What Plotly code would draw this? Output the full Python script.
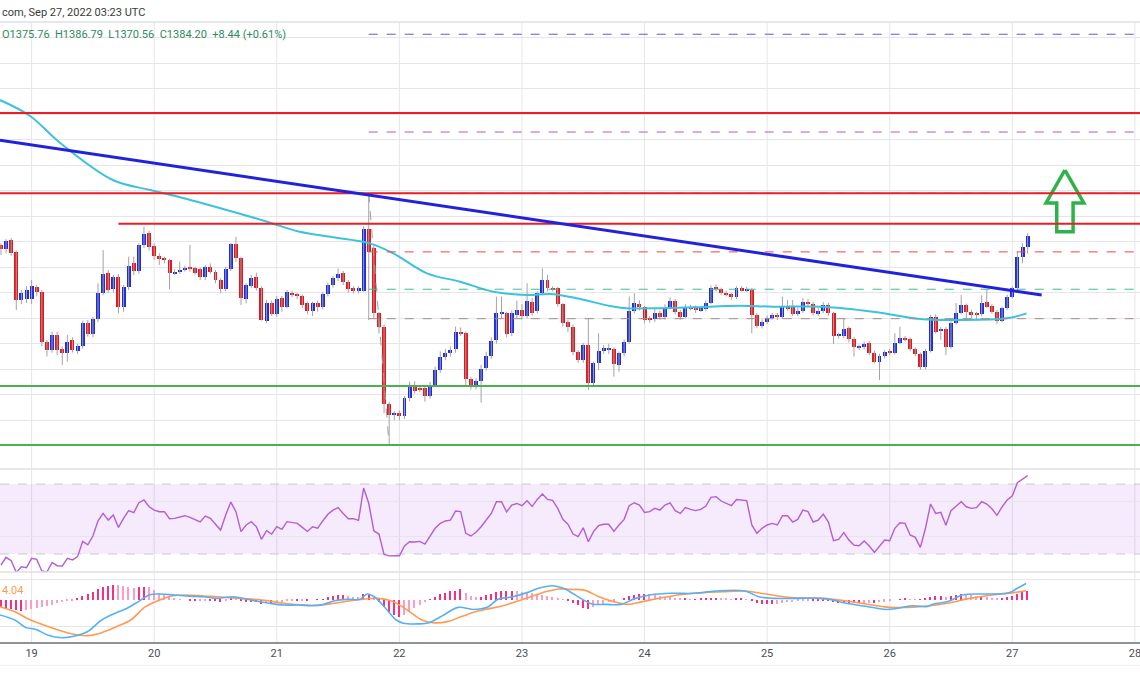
import plotly.graph_objects as go
import pandas as pd

# ---------------- data (hourly ETH/USD candles, first candle = Sep 18 18:00 UTC) ----------------
base = pd.Timestamp("2022-09-19 00:00")
first_hour = -6

opens = [1377.4,1374.0,1381.3,1371.9,1334.3,1334.8,1334.8,1344.7,1340.8,1301.6,1295.1,1306.8,1295.6,1293.0,1302.9,1294.3,
         1298.2,1316.5,1307.6,1319.1,1340.0,1355.2,1342.6,1352.1,1328.5,1344.2,1363.0,1357.3,1377.4,1386.6,1376.6,1369.1,
         1366.2,1365.7,1355.2,1356.5,1358.3,1359.4,1359.1,1358.3,1352.1,1359.9,1356.5,1350.0,1342.6,1358.9,1378.2,1367.0,
         1334.8,1345.3,1352.1,1343.4,1318.1,1331.7,1323.3,1335.6,1329.1,1340.0,1338.2,1337.4,1331.7,1325.9,1332.2,1329.1,
         1338.7,1346.1,1351.3,1355.7,1348.7,1343.4,1341.6,1341.6,1389.7,1375.3,1323.8,1313.4,1252.7,1244.1,1245.4,1243.3,
         1257.2,1266.3,1264.7,1265.0,1259.0,1267.6,1279.4,1289.8,1292.4,1295.6,1309.4,1308.4,1272.1,1266.3,1271.0,1280.7,
         1290.4,1302.9,1323.8,1323.8,1308.1,1322.5,1326.4,1321.7,1333.0,1325.9,1340.0,1350.0,1343.4,1343.4,1331.1,1317.3,
         1313.4,1293.8,1287.2,1299.0,1269.4,1284.6,1294.5,1295.1,1295.6,1283.3,1292.4,1301.6,1325.9,1331.1,1328.5,1319.1,
         1319.1,1324.3,1321.2,1328.3,1333.8,1325.1,1321.2,1329.1,1328.5,1326.4,1326.9,1332.2,1344.2,1342.6,1340.0,1338.7,
         1336.4,1343.4,1342.1,1342.1,1322.5,1313.9,1317.3,1320.4,1322.5,1321.2,1328.5,1328.5,1323.3,1325.9,1333.0,1331.2,
         1323.3,1325.9,1330.4,1323.8,1306.1,1306.1,1312.1,1303.4,1297.2,1297.2,1300.3,1293.0,1285.9,1290.4,1294.3,1293.0,
         1300.8,1304.2,1303.4,1295.6,1291.7,1281.5,1294.6,1321.2,1310.5,1311.3,1297.6,1316.2,1324.1,1330.4,1325.1,1323.5,
         1323.1,1332.9,1329.6,1325.1,1318.0,1327.8,1336.9,1343.4,1367.8,1375.76]
highs = [1378.7,1382.0,1383.0,1373.0,1342.0,1345.0,1350.0,1346.0,1342.0,1303.0,1309.4,1309.4,1297.7,1306.8,1305.0,1300.0,
         1318.0,1318.6,1321.0,1347.4,1373.5,1357.8,1353.9,1354.7,1346.1,1368.3,1368.3,1378.7,1391.8,1388.5,1378.7,1371.0,
         1368.3,1366.5,1358.3,1364.3,1361.0,1377.4,1360.5,1359.6,1361.7,1363.0,1357.8,1351.3,1360.5,1379.0,1384.0,1368.3,
         1347.4,1353.9,1355.7,1345.0,1334.3,1333.8,1337.4,1337.4,1342.1,1341.6,1340.0,1338.7,1333.0,1333.0,1333.8,1340.5,
         1348.0,1353.0,1359.0,1357.0,1350.0,1345.0,1345.0,1392.0,1417.9,1377.0,1325.0,1315.0,1254.5,1247.0,1247.5,1259.0,
         1270.2,1270.5,1266.5,1266.3,1270.0,1282.0,1294.0,1296.0,1297.7,1313.4,1312.8,1309.5,1274.0,1273.0,1283.3,1293.8,
         1305.0,1336.9,1336.9,1325.1,1326.0,1333.8,1331.0,1347.4,1336.0,1341.0,1359.1,1353.9,1345.0,1344.5,1332.0,1318.6,
         1315.0,1295.0,1300.5,1319.9,1286.0,1308.1,1299.0,1300.0,1297.0,1294.0,1303.5,1336.9,1339.5,1334.0,1329.5,1321.5,
         1328.3,1326.0,1331.0,1336.4,1335.0,1326.5,1331.0,1330.5,1330.0,1329.5,1334.0,1345.5,1346.5,1344.0,1341.5,1340.0,
         1345.0,1345.0,1344.5,1343.5,1324.0,1319.0,1322.0,1324.0,1324.0,1336.9,1334.3,1334.3,1328.0,1335.5,1335.0,1333.0,
         1328.0,1332.5,1332.0,1325.0,1308.5,1319.9,1313.5,1305.0,1299.5,1301.6,1302.0,1294.5,1292.0,1295.0,1296.0,1308.2,
         1313.4,1306.0,1305.0,1297.0,1293.0,1296.0,1322.5,1323.0,1313.0,1313.0,1317.5,1331.9,1338.2,1331.5,1326.5,1325.0,
         1338.0,1342.1,1331.0,1326.5,1329.0,1338.5,1345.0,1372.0,1378.7,1386.79]
lows = [1369.6,1371.0,1369.0,1326.4,1331.0,1332.0,1331.0,1337.0,1298.0,1290.0,1293.0,1291.0,1283.3,1285.9,1293.0,1292.0,
        1296.0,1305.5,1305.0,1317.0,1338.0,1340.0,1340.0,1323.8,1325.1,1342.0,1353.9,1355.0,1375.0,1373.0,1366.0,1361.7,
        1363.0,1342.6,1353.9,1354.7,1356.5,1356.5,1353.9,1350.0,1350.0,1354.7,1347.4,1339.5,1341.0,1357.0,1364.3,1330.4,
        1331.7,1343.4,1341.6,1318.1,1316.0,1321.7,1321.0,1325.1,1327.7,1336.4,1335.0,1328.0,1323.3,1321.7,1325.1,1327.0,
        1337.0,1344.0,1349.0,1346.0,1340.0,1339.5,1339.5,1340.8,1318.6,1320.0,1308.0,1245.4,1220.5,1240.0,1240.0,1241.0,
        1255.0,1261.0,1262.0,1254.5,1257.0,1266.0,1277.0,1287.0,1290.0,1293.0,1306.0,1266.3,1264.0,1264.0,1253.8,1279.0,
        1288.0,1300.0,1320.0,1305.0,1306.0,1320.0,1319.0,1319.9,1322.0,1323.8,1338.0,1341.0,1341.0,1329.0,1313.4,1309.0,
        1291.0,1285.0,1285.0,1263.7,1267.0,1279.4,1292.0,1292.0,1274.2,1278.0,1290.0,1300.0,1323.8,1326.0,1316.0,1316.5,
        1317.0,1319.0,1319.0,1327.0,1323.0,1319.0,1319.9,1326.0,1324.0,1325.0,1325.5,1331.0,1341.0,1338.0,1337.0,1334.5,
        1335.0,1341.0,1340.5,1308.2,1312.1,1312.0,1315.5,1319.0,1318.5,1319.5,1326.0,1321.5,1321.5,1324.0,1329.5,1322.0,
        1321.5,1324.0,1322.0,1299.8,1304.0,1304.5,1301.0,1289.9,1295.0,1295.5,1291.0,1284.6,1271.5,1288.5,1291.0,1291.5,
        1299.5,1301.5,1294.0,1290.0,1279.4,1280.0,1293.0,1308.0,1302.9,1291.1,1296.0,1315.0,1323.0,1318.0,1320.0,1318.0,
        1321.5,1328.0,1323.5,1315.5,1317.0,1326.5,1335.5,1341.6,1363.1,1370.56]
closes = [1374.0,1380.6,1371.4,1334.3,1340.0,1342.1,1345.3,1340.8,1301.6,1295.1,1306.8,1295.1,1293.0,1301.6,1295.1,1298.5,
          1316.5,1307.6,1319.1,1340.0,1354.7,1342.1,1352.1,1328.5,1344.7,1361.2,1357.3,1377.4,1386.0,1376.1,1368.8,1366.2,
          1365.7,1355.7,1356.5,1357.8,1359.6,1358.9,1355.7,1352.1,1359.9,1356.5,1350.0,1342.6,1358.9,1377.9,1367.0,1335.6,
          1346.1,1351.3,1343.4,1318.6,1331.7,1323.3,1334.8,1329.1,1340.8,1338.2,1337.4,1330.4,1325.7,1331.7,1329.1,1339.0,
          1346.1,1351.3,1354.7,1348.7,1342.6,1341.6,1343.4,1389.7,1372.2,1323.8,1313.4,1252.7,1244.1,1245.4,1243.3,1257.2,
          1265.8,1263.2,1264.2,1259.0,1267.6,1279.4,1289.3,1293.0,1295.1,1309.4,1307.6,1272.1,1266.3,1271.0,1279.9,1290.4,
          1302.4,1323.8,1324.3,1307.6,1323.8,1326.4,1321.7,1333.8,1324.3,1339.5,1350.0,1343.4,1342.6,1331.1,1316.0,1312.8,
          1293.8,1287.2,1299.0,1268.9,1284.6,1294.5,1296.4,1296.9,1284.1,1292.4,1301.6,1325.9,1331.7,1328.5,1318.6,1318.6,
          1324.3,1321.2,1328.3,1333.8,1325.1,1321.2,1329.1,1327.7,1326.4,1327.7,1332.2,1343.4,1342.6,1340.0,1338.7,1336.4,
          1343.4,1342.1,1342.7,1322.5,1313.9,1317.3,1320.4,1322.3,1320.7,1328.5,1327.8,1323.3,1325.9,1333.0,1331.2,1323.8,
          1325.9,1330.4,1323.8,1306.1,1306.8,1311.3,1303.4,1297.2,1297.7,1299.8,1293.0,1285.9,1290.4,1293.5,1293.0,1300.8,
          1304.2,1303.4,1295.6,1291.7,1281.5,1294.6,1321.2,1309.4,1311.3,1297.6,1316.2,1324.1,1330.4,1325.1,1322.5,1323.0,
          1331.7,1329.0,1325.1,1318.0,1327.8,1336.9,1343.5,1367.8,1375.6,1384.20]

rsi = [23.7,28.1,26.2,19.5,22.7,22.2,27.5,26.9,20.3,19.7,25.2,23.3,23.1,27.5,26.6,28.5,
       37.2,35.3,40.3,49.0,53.2,49.4,52.3,45.2,50.4,54.8,53.6,59.3,60.9,57.0,55.1,54.2,
       54.2,50.2,50.4,51.3,51.9,50.9,49.5,48.3,51.7,50.4,47.0,43.7,52.3,59.7,54.2,42.8,
       46.6,48.5,45.6,38.4,43.3,41.4,45.6,44.1,48.5,47.9,47.5,45.2,42.9,45.6,44.8,48.9,
       52.7,55.1,56.5,53.2,50.2,50.2,49.2,67.7,59.0,43.3,41.4,29.8,28.9,29.0,29.0,34.6,
       37.0,36.9,37.2,35.7,39.9,44.7,47.5,48.9,49.4,54.6,54.2,41.8,40.3,42.4,45.6,49.4,
       53.2,59.9,59.9,54.0,58.0,58.9,57.6,60.5,57.2,61.2,64.3,61.2,60.7,56.1,49.8,47.0,
       41.4,39.9,45.0,37.0,42.8,46.2,47.0,47.0,42.9,46.6,49.8,57.6,59.3,58.0,53.8,54.2,
       56.1,55.1,58.0,59.3,54.8,53.2,56.5,55.5,54.8,55.5,57.4,62.4,62.8,60.3,59.0,57.6,
       61.2,60.9,60.5,46.6,41.8,44.7,46.6,47.5,46.6,51.9,51.9,48.3,49.8,55.1,54.2,48.3,
       49.4,52.8,48.3,37.6,38.4,42.2,38.0,35.1,34.7,37.4,34.6,30.9,34.7,38.0,37.6,44.7,
       47.9,47.5,40.9,39.5,33.8,44.7,58.6,53.2,53.8,46.4,54.8,57.4,59.9,57.0,56.1,56.5,
       59.9,58.6,55.9,52.1,57.0,60.9,63.3,70.8,72.7,74.8]

macd_hist = [-3.2,-3.6,-4.1,-4.3,-4.6,-4.3,-4.1,-3.6,-3.2,-2.6,-2.2,-1.4,-1.0,-0.6,-0.3,0.6,
             1.7,2.6,3.6,4.6,5.8,6.1,6.5,6.4,6.1,5.8,5.1,5.5,5.8,5.5,4.3,2.9,
             2.2,1.4,0.7,0.3,0.0,-0.3,-0.4,-0.3,-0.1,-0.4,-0.6,-0.7,-0.1,0.6,0.3,-0.4,
             -0.7,-0.7,-1.0,-1.7,-1.4,-1.6,-1.2,-0.9,-0.3,-0.1,-0.3,-0.1,-0.1,0.0,0.1,0.4,
             1.2,1.7,2.0,2.0,1.7,1.4,1.2,2.6,2.6,1.2,-0.7,-2.9,-5.1,-6.5,-7.2,-6.7,
             -5.4,-3.3,-2.0,-0.9,0.3,1.4,2.5,3.2,3.8,4.1,4.6,2.9,1.7,1.2,1.4,2.0,
             2.6,3.6,4.1,4.1,4.1,3.8,3.3,3.2,2.9,2.6,2.3,1.7,1.2,0.7,0.3,-0.3,
             -1.2,-2.3,-3.5,-4.1,-3.2,-2.3,-1.6,-0.9,-0.4,0.0,0.6,1.6,2.3,2.6,2.8,2.6,
             2.2,1.7,1.4,1.2,0.7,0.6,0.6,0.4,0.4,0.6,0.6,0.9,0.9,0.7,0.6,0.4,
             0.6,0.6,0.4,-0.3,-1.2,-1.6,-1.7,-1.7,-1.6,-1.3,-1.0,-0.9,-0.6,-0.3,-0.1,-0.1,
             -0.3,-0.3,-0.6,-1.0,-1.2,-1.2,-1.3,-1.4,-1.4,-1.3,-1.2,-1.2,-1.0,-0.7,-0.4,0.0,
             0.4,0.6,0.4,0.3,0.3,0.6,1.4,1.7,1.7,1.4,1.9,2.3,2.6,2.3,2.0,1.7,
             1.7,1.4,1.0,0.6,0.7,1.2,1.7,2.6,3.5,4.1]

# MACD / signal lines read as points (hours from Sep 19 00:00 UTC)
macd_hours = [-6.2,-3.3,-1.2,0.9,3.1,5.9,8.0,10.9,13.7,16.6,18.7,20.9,23.0,25.1,28.0,30.8,33.7,36.5,39.4,42.2,
              43.6,46.5,49.3,52.2,55.0,57.2,59.3,62.1,64.3,65.7,67.1,69.3,71.4,72.8,75.7,77.8,80.7,83.5,86.4,89.2,
              91.3,94.2,97.0,99.2,102.0,104.1,105.4,107.5,109.7,112.5,115.4,118.2,121.1,125.3,129.6,133.9,139.6,
              142.4,145.3,149.5,155.2,159.5,163.8,167.3,169.5,172.3,175.2,176.6,179.4,182.3,186.6,189.4,191.5,
              193.0,194.7]
macd_vals = [-6.5,-8.7,-11.9,-12.8,-15.2,-16.4,-15.9,-13.8,-8.7,-5.5,-3.6,-0.7,2.2,2.6,2.2,1.7,1.4,0.7,1.4,0.3,
             -0.3,-1.4,-2.2,-2.2,-2.5,-1.9,-0.3,0.3,0.3,2.6,1.4,-3.6,-8.7,-10.1,-10.4,-9.9,-6.5,-3.2,-4.1,-3.2,
             0.3,1.4,3.2,5.1,6.2,5.1,3.6,0.7,-1.7,-1.9,-1.9,0.7,2.2,2.9,2.9,3.9,3.9,
             1.4,0.7,0.7,0.7,-1.4,-2.9,-4.1,-3.6,-2.5,-2.9,-1.7,-0.7,2.2,2.6,2.6,3.3,
             5.1,7.2]
signal_hours = [-6.2,-3.3,-0.5,2.35,5.2,8.0,10.9,13.7,16.6,19.4,22.3,25.1,27.3,30.1,33.7,36.5,40.8,45.1,49.3,53.6,
                56.5,59.3,63.6,67.9,70.7,73.5,76.4,78.5,81.4,84.2,87.8,92.1,94.9,97.7,100.6,103.4,105.4,108.2,
                111.1,113.9,116.8,119.6,123.9,129.6,135.3,139.6,143.8,148.1,153.8,158.1,162.4,168.1,173.7,179.4,
                183.7,188.0,192.3,194.7]
signal_vals = [-2.9,-5.1,-8.4,-10.9,-13.0,-14.8,-15.5,-14.2,-11.6,-8.7,-2.9,0.0,1.7,2.2,1.7,1.4,0.7,0.0,-1.4,-2.2,
               -2.2,-1.4,0.0,0.7,-0.7,-4.3,-8.7,-9.9,-9.4,-7.2,-4.6,-2.6,-0.7,1.4,3.6,4.8,4.6,4.3,
               1.4,-0.7,-1.9,-0.7,1.2,2.9,3.6,3.9,2.6,1.2,0.7,0.0,-1.4,-3.2,-2.9,-1.4,
               0.7,2.2,3.2,4.0]

# moving average read as points
ma_hours = [-6.2,-0.3,5.6,15.9,23.2,29.6,39.4,46.1,52.5,59.0,66.2,70.8,77.4,83.9,90.4,96.9,101.5,106.7,113.2,116.5,
            123.0,129.5,138.7,145.1,154.9,164.7,174.5,181.1,190.9,194.8]
ma_vals = [1491.1,1478.6,1457.4,1428.4,1420.5,1414.3,1403.5,1395.7,1387.8,1383.5,1378.7,1370.9,1355.2,1348.6,1340.8,
           1338.2,1339.0,1335.6,1329.6,1327.8,1327.8,1328.5,1329.8,1329.0,1329.0,1325.1,1319.1,1318.6,1319.9,1323.8]

# drawn levels
red_levels = [1481.0, 1418.0]
red_level_partial = 1394.0
red_partial_start_hour = 17
green_levels = [1266.8, 1220.5]
fib_start_hour = 66
fib_levels = [1542.7, 1466.0, 1418.0, 1372.0, 1342.7, 1319.6, 1266.8, 1220.5]
fib_colors = ["#5b5bd8", "#a957d6", "#8ab0e6", "#f0434a", "#3cbf9a", "#a08b8b", "#f0434a", "#9e9e9e"]
fib_diag_hours = [66, 70]
fib_diag_prices = [1418.0, 1220.5]
trend_hours = [-6.2, 197.75]
trend_prices = [1459.6, 1338.2]
arrow_hours = [202.3, 198.6, 200.7, 200.7, 203.9, 203.9, 206.0, 202.3]
arrow_prices = [1436.2, 1410.4, 1410.4, 1387.8, 1387.8, 1410.4, 1410.4, 1436.2]

day_labels = ["19", "20", "21", "22", "23", "24", "25", "26", "27", "28"]

# ---------------- helpers ----------------
def ht(h):
    return base + pd.Timedelta(hours=h)

n = len(opens)
times = [ht(first_hour + i) for i in range(n)]
day_dates = [base + pd.Timedelta(days=i) for i in range(len(day_labels))]

UP = "#1c2ce0"
DOWN = "#e5171d"
WICK = "#a3a3a8"

fig = go.Figure()

# wicks
wx, wy = [], []
for t, h, l in zip(times, highs, lows):
    wx += [t, t, None]
    wy += [l, h, None]
fig.add_trace(go.Scatter(x=wx, y=wy, mode="lines", line=dict(color=WICK, width=1),
                         hoverinfo="skip", showlegend=False, xaxis="x", yaxis="y"))

# bodies
for up, col in ((True, UP), (False, DOWN)):
    bx, bb, bh = [], [], []
    for t, o, c in zip(times, opens, closes):
        if (c >= o) == up:
            lo, hi = min(o, c), max(o, c)
            bx.append(t)
            bb.append(lo)
            bh.append(max(hi - lo, 0.9))
    fig.add_trace(go.Bar(x=bx, y=bh, base=bb, width=2.8e6, marker=dict(color=col, line=dict(width=0)),
                         showlegend=False, xaxis="x", yaxis="y"))

# moving average
fig.add_trace(go.Scatter(x=[ht(h) for h in ma_hours], y=ma_vals, mode="lines",
                         line=dict(color="#3cc2dc", width=2, shape="spline"),
                         showlegend=False, xaxis="x", yaxis="y"))

# arrow drawing
fig.add_trace(go.Scatter(x=[ht(h) for h in arrow_hours], y=arrow_prices, mode="lines",
                         line=dict(color="#2db34a", width=3.5), showlegend=False, xaxis="x", yaxis="y"))

# RSI
fig.add_trace(go.Scatter(x=times, y=rsi, mode="lines", line=dict(color="#b35ed2", width=1.4),
                         showlegend=False, xaxis="x", yaxis="y2"))

# MACD histogram
hcols = []
prev = 0.0
for v in macd_hist:
    strong = (v >= 0 and v >= prev) or (v < 0 and v <= prev)
    hcols.append("#f5317f" if strong else "#ff9cc2")
    prev = v
fig.add_trace(go.Bar(x=times, y=macd_hist, width=1.0e6, marker=dict(color=hcols, line=dict(width=0)),
                     showlegend=False, xaxis="x", yaxis="y3"))
fig.add_trace(go.Scatter(x=[ht(h) for h in signal_hours], y=signal_vals, mode="lines",
                         line=dict(color="#ff9a52", width=1.6, shape="spline"),
                         showlegend=False, xaxis="x", yaxis="y3"))
fig.add_trace(go.Scatter(x=[ht(h) for h in macd_hours], y=macd_vals, mode="lines",
                         line=dict(color="#55b0f5", width=1.6, shape="spline"),
                         showlegend=False, xaxis="x", yaxis="y3"))

# ---------------- shapes ----------------
shapes = []
GRID = "#e6e6ea"
for d in day_dates:
    shapes.append(dict(type="line", xref="x", yref="paper", x0=d, x1=d, y0=0, y1=1,
                       line=dict(color=GRID, width=1), layer="below"))
# RSI band
shapes.append(dict(type="rect", xref="paper", yref="y2", x0=0, x1=1, y0=30, y1=70,
                   fillcolor="rgba(170,60,240,0.11)", line=dict(width=0), layer="below"))
for lv in (30, 70):
    shapes.append(dict(type="line", xref="paper", yref="y2", x0=0, x1=1, y0=lv, y1=lv,
                       line=dict(color="#c9c9d0", width=1, dash="dash"), layer="below"))
# panel separators
D_MACD = 0.1129
D_RSI = 0.2790
for yy in (D_MACD, D_RSI, 1.0):
    shapes.append(dict(type="line", xref="paper", yref="paper", x0=0, x1=1, y0=yy, y1=yy,
                       line=dict(color="#e0e1e6", width=1.5)))
shapes.append(dict(type="line", xref="paper", yref="paper", x0=0, x1=1, y0=-0.0376, y1=-0.0376,
                   line=dict(color="#eeeef3", width=1)))
# fibonacci levels
x_end = ht(240)
for lv, col in zip(fib_levels, fib_colors):
    shapes.append(dict(type="line", xref="x", yref="y", x0=ht(fib_start_hour), x1=x_end, y0=lv, y1=lv,
                       line=dict(color=col, width=1, dash="dash")))
shapes.append(dict(type="line", xref="x", yref="y", x0=ht(fib_diag_hours[0]), x1=ht(fib_diag_hours[1]),
                   y0=fib_diag_prices[0], y1=fib_diag_prices[1], line=dict(color="#9e9e9e", width=1, dash="dash")))
# resistance / support
for lv in red_levels:
    shapes.append(dict(type="line", xref="paper", yref="y", x0=0, x1=1, y0=lv, y1=lv,
                       line=dict(color="#ee1c24", width=2)))
shapes.append(dict(type="line", xref="x", yref="y", x0=ht(red_partial_start_hour), x1=x_end,
                   y0=red_level_partial, y1=red_level_partial, line=dict(color="#ee1c24", width=2)))
for lv in green_levels:
    shapes.append(dict(type="line", xref="paper", yref="y", x0=0, x1=1, y0=lv, y1=lv,
                       line=dict(color="#4caf50", width=2)))
# trend line
shapes.append(dict(type="line", xref="x", yref="y", x0=ht(trend_hours[0]), x1=ht(trend_hours[1]),
                   y0=trend_prices[0], y1=trend_prices[1], line=dict(color="#2222dd", width=3)))

annotations = [
    dict(xref="paper", yref="paper", x=0, y=1.016, xanchor="left", yanchor="middle", showarrow=False,
         text="com, Sep 27, 2022 03:23 UTC", font=dict(family="Roboto, Arial, sans-serif", size=11, color="#3a3a3a")),
    dict(xref="paper", yref="paper", x=0, y=0.9806, xanchor="left", yanchor="middle", showarrow=False,
         text="O1375.76  H1386.79  L1370.56  C1384.20  +8.44 (+0.61%)",
         font=dict(family="Roboto, Arial, sans-serif", size=11, color="#2f8a5e")),
    dict(xref="paper", yref="y3", x=0, y=4.04, xanchor="left", yanchor="middle", showarrow=False,
         text="4.04", font=dict(family="Roboto, Arial, sans-serif", size=11, color="#ff9a52")),
]

fig.update_layout(
    width=1140, height=694,
    margin=dict(l=0, r=0, t=22, b=52),
    paper_bgcolor="white", plot_bgcolor="white",
    barmode="overlay", bargap=0,
    showlegend=False,
    shapes=shapes, annotations=annotations,
    xaxis=dict(type="date", range=[ht(-6.19), ht(217.0)], anchor="y3",
               tickvals=day_dates, ticktext=day_labels, showgrid=False, zeroline=False,
               showline=True, linecolor="#8f929b", linewidth=1.5, ticks="",
               ticklabeloverflow="allow",
               tickfont=dict(family="Roboto, Arial, sans-serif", size=11, color="#4a4d57"),
               rangeslider=dict(visible=False), fixedrange=True),
    yaxis=dict(domain=[D_RSI, 1.0], range=[1201.7, 1552.3], tickvals=list(range(1220, 1541, 20)),
               showticklabels=False, gridcolor=GRID, zeroline=False, fixedrange=True),
    yaxis2=dict(domain=[D_MACD, D_RSI], range=[19.7, 78.6], tickvals=[40, 60], showticklabels=False,
                gridcolor=GRID, zeroline=False, fixedrange=True),
    yaxis3=dict(domain=[0, D_MACD], range=[-18.26, 12.17], tickvals=[-11.6, 9.0], showticklabels=False,
                gridcolor=GRID, zeroline=False, fixedrange=True),
)

fig.write_html("out.html", config={"displayModeBar": False},
               post_script="document.body.style.margin='0';document.body.style.padding='0';")
